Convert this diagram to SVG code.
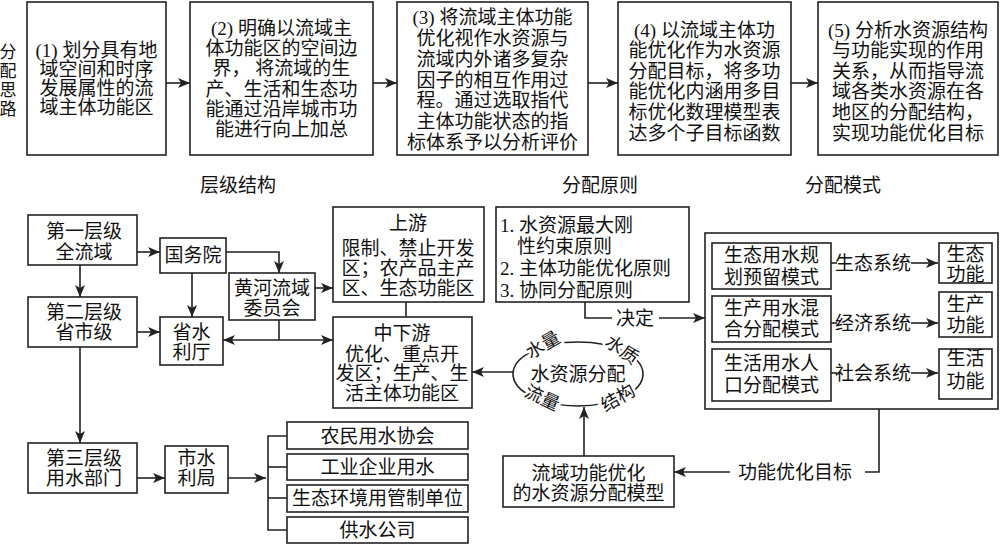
<svg xmlns="http://www.w3.org/2000/svg" width="1000" height="544" viewBox="0 0 1000 544">
<style>
text{font-family:"Liberation Serif","Noto Sans CJK SC",serif;font-size:19px;fill:#111;text-anchor:middle;dominant-baseline:central}
.l{text-anchor:start}
.v{font-size:17px}
.box{fill:#fff;stroke:#222;stroke-width:1.6}
.ln{fill:none;stroke:#222;stroke-width:1.6}
.halo{font-size:18px;stroke:#fff;stroke-width:5;paint-order:stroke}
</style>
<defs>
<marker id="arr" viewBox="0 0 12 10" refX="12" refY="5" markerWidth="12" markerHeight="10" orient="auto" markerUnits="userSpaceOnUse">
<path d="M0,0 L12,5 L0,10 L3,5 z" fill="#222"/>
</marker>
</defs>
<rect width="1000" height="544" fill="#fff"/>

<g id="side">
<text class="v" x="8" y="52">分</text>
<text class="v" x="8" y="71">配</text>
<text class="v" x="8" y="90">思</text>
<text class="v" x="8" y="109">路</text>
</g>

<g id="s1"><rect class="box" x="27" y="2" width="139" height="153"/>
<text x="96.5" y="50">(1) 划分具有地</text><text x="96.5" y="69">域空间和时序</text><text x="96.5" y="88">发展属性的流</text><text x="96.5" y="107">域主体功能区</text></g>
<g id="s2"><rect class="box" x="190" y="2" width="183" height="153"/>
<text x="281.5" y="28">(2) 明确以流域主</text><text x="281.5" y="48">体功能区的空间边</text><text x="281.5" y="68">界， 将流域的生</text><text x="281.5" y="89">产、生活和生态功</text><text x="281.5" y="109">能通过沿岸城市功</text><text x="281.5" y="129">能进行向上加总</text></g>
<g id="s3"><rect class="box" x="397" y="2" width="191" height="153"/>
<text x="492.5" y="17">(3) 将流域主体功能</text><text x="492.5" y="38">优化视作水资源与</text><text x="492.5" y="59">流域内外诸多复杂</text><text x="492.5" y="80">因子的相互作用过</text><text x="492.5" y="100">程。通过选取指代</text><text x="492.5" y="121">主体功能状态的指</text><text x="492.5" y="142">标体系予以分析评价</text></g>
<g id="s4"><rect class="box" x="618" y="2" width="173" height="153"/>
<text x="704.5" y="30">(4) 以流域主体功</text><text x="704.5" y="50">能优化作为水资源</text><text x="704.5" y="71">分配目标，将多功</text><text x="704.5" y="91">能优化内涵用多目</text><text x="704.5" y="112">标优化数理模型表</text><text x="704.5" y="133">达多个子目标函数</text></g>
<g id="s5"><rect class="box" x="818" y="2" width="180" height="153"/>
<text x="908" y="30">(5) 分析水资源结构</text><text x="908" y="50">与功能实现的作用</text><text x="908" y="71">关系，从而指导流</text><text x="908" y="91">域各类水资源在各</text><text x="908" y="112">地区的分配结构，</text><text x="908" y="133">实现功能优化目标</text></g>

<text x="238" y="185">层级结构</text>
<text x="600" y="185">分配原则</text>
<text x="843" y="185">分配模式</text>

<g id="n1"><rect class="box" x="28" y="215" width="109" height="50"/><text x="84" y="231">第一层级</text><text x="84" y="252">全流域</text></g>
<g id="n2"><rect class="box" x="28" y="297" width="109" height="50"/><text x="84" y="312">第二层级</text><text x="84" y="332">省市级</text></g>
<g id="n3"><rect class="box" x="28" y="443" width="109" height="50"/><text x="84" y="458">第三层级</text><text x="84" y="478">用水部门</text></g>
<g id="gwy"><rect class="box" x="160" y="238" width="66" height="35"/><text x="193" y="255">国务院</text></g>
<g id="sslt"><rect class="box" x="160" y="317" width="63" height="48"/><text x="191.5" y="332">省水</text><text x="191.5" y="352">利厅</text></g>
<g id="hh"><rect class="box" x="229" y="273" width="86" height="47"/><text x="272" y="288">黄河流域</text><text x="272" y="308">委员会</text></g>
<g id="sslj"><rect class="box" x="165" y="446" width="63" height="47"/><text x="196.5" y="458">市水</text><text x="196.5" y="478">利局</text></g>
<g id="sy"><rect class="box" x="333" y="207" width="151" height="95"/><text x="408" y="223">上游</text><text x="408" y="248">限制、禁止开发</text><text x="408" y="268">区；农产品主产</text><text x="408" y="288">区、生态功能区</text></g>
<g id="zxy"><rect class="box" x="333" y="317" width="139" height="91"/><text x="402" y="333">中下游</text><text x="402" y="354">优化、重点开</text><text x="402" y="373">发区；生产、生</text><text x="402" y="393">活主体功能区</text></g>
<g id="u1"><rect class="box" x="287" y="422" width="181" height="27"/><text x="377.5" y="436">农民用水协会</text></g>
<g id="u2"><rect class="box" x="287" y="454" width="181" height="26"/><text x="377.5" y="467">工业企业用水</text></g>
<g id="u3"><rect class="box" x="287" y="485" width="181" height="27"/><text x="377.5" y="498">生态环境用管制单位</text></g>
<g id="u4"><rect class="box" x="287" y="517" width="181" height="26"/><text x="377.5" y="530">供水公司</text></g>

<g id="yz"><rect class="box" x="496" y="207" width="193" height="95"/>
<text class="l" x="500" y="225">1. 水资源最大刚</text><text class="l" x="517" y="246">性约束原则</text><text class="l" x="500" y="268">2. 主体功能优化原则</text><text class="l" x="500" y="290">3. 协同分配原则</text></g>

<g id="ms"><rect class="box" x="705" y="233" width="293" height="176"/></g>
<g id="m1"><rect class="box" x="712" y="243" width="119" height="46"/><text x="771.5" y="255">生态用水规</text><text x="771.5" y="277">划预留模式</text></g>
<g id="m2"><rect class="box" x="712" y="296" width="119" height="46"/><text x="771.5" y="308">生产用水混</text><text x="771.5" y="329">合分配模式</text></g>
<g id="m3"><rect class="box" x="712" y="349" width="119" height="52"/><text x="771.5" y="363">生活用水人</text><text x="771.5" y="385">口分配模式</text></g>
<g id="f1"><rect class="box" x="939" y="243" width="53" height="40"/><text x="965.5" y="254">生态</text><text x="965.5" y="274">功能</text></g>
<g id="f2"><rect class="box" x="939" y="292" width="53" height="45"/><text x="965.5" y="304">生产</text><text x="965.5" y="325">功能</text></g>
<g id="f3"><rect class="box" x="939" y="349" width="53" height="50"/><text x="965.5" y="358">生活</text><text x="965.5" y="381">功能</text></g>

<g id="model"><rect class="box" x="503" y="456" width="171" height="51"/><text x="588.5" y="473">流域功能优化</text><text x="588.5" y="493">的水资源分配模型</text></g>

<g id="ell">
<ellipse class="ln" cx="578" cy="374" rx="65" ry="32"/>
<text x="578" y="374">水资源分配</text>
<text class="halo" transform="translate(543,345) rotate(-30)">水量</text>
<text class="halo" transform="translate(622,350) rotate(35)">水质</text>
<text class="halo" transform="translate(542,398) rotate(25)">流量</text>
<text class="halo" transform="translate(618,398) rotate(-30)">结构</text>
</g>

<g id="connectors">
<line class="ln" x1="166" y1="83" x2="190" y2="83" marker-end="url(#arr)"/>
<line class="ln" x1="373" y1="83" x2="397" y2="83" marker-end="url(#arr)"/>
<line class="ln" x1="588" y1="83" x2="618" y2="83" marker-end="url(#arr)"/>
<line class="ln" x1="791" y1="83" x2="818" y2="83" marker-end="url(#arr)"/>

<line class="ln" x1="137" y1="252" x2="160" y2="252" marker-end="url(#arr)"/>
<line class="ln" x1="80" y1="265" x2="80" y2="297" marker-end="url(#arr)"/>
<line class="ln" x1="192" y1="273" x2="192" y2="317" marker-end="url(#arr)"/>
<polyline class="ln" points="226,252 279,252 279,273" marker-end="url(#arr)"/>
<line class="ln" x1="137" y1="332" x2="160" y2="332" marker-end="url(#arr)"/>
<line class="ln" x1="315" y1="288" x2="333" y2="288" marker-end="url(#arr)"/>
<line class="ln" x1="406" y1="302" x2="406" y2="317"/>
<line class="ln" x1="279" y1="320" x2="279" y2="340"/>
<line class="ln" x1="279" y1="340" x2="223" y2="340" marker-end="url(#arr)"/>
<line class="ln" x1="279" y1="340" x2="333" y2="340" marker-end="url(#arr)"/>
<line class="ln" x1="80" y1="347" x2="80" y2="443" marker-end="url(#arr)"/>
<line class="ln" x1="137" y1="478" x2="165" y2="478" marker-end="url(#arr)"/>
<line class="ln" x1="228" y1="478" x2="266" y2="478" marker-end="url(#arr)"/>
<polyline class="ln" points="287,436 268,436 268,530 287,530"/>
<line class="ln" x1="268" y1="467" x2="287" y2="467"/>
<line class="ln" x1="268" y1="498" x2="287" y2="498"/>

<polyline class="ln" points="585,302 585,318 612,318"/>
<text x="635" y="318">决定</text>
<line class="ln" x1="659" y1="318" x2="705" y2="318" marker-end="url(#arr)"/>

<line class="ln" x1="831" y1="263" x2="837" y2="263"/>
<text x="873" y="263">生态系统</text>
<line class="ln" x1="911" y1="263" x2="938" y2="263" marker-end="url(#arr)"/>
<line class="ln" x1="831" y1="323" x2="837" y2="323"/>
<text x="873" y="323">经济系统</text>
<line class="ln" x1="911" y1="323" x2="938" y2="323" marker-end="url(#arr)"/>
<line class="ln" x1="831" y1="373" x2="837" y2="373"/>
<text x="873" y="373">社会系统</text>
<line class="ln" x1="911" y1="373" x2="938" y2="373" marker-end="url(#arr)"/>

<line class="ln" x1="513" y1="372" x2="472" y2="372" marker-end="url(#arr)"/>
<line class="ln" x1="584" y1="456" x2="584" y2="407" marker-end="url(#arr)"/>
<polyline class="ln" points="879,409 879,472 865,472"/>
<text x="795" y="472">功能优化目标</text>
<line class="ln" x1="730" y1="472" x2="674" y2="472" marker-end="url(#arr)"/>
</g>
</svg>
